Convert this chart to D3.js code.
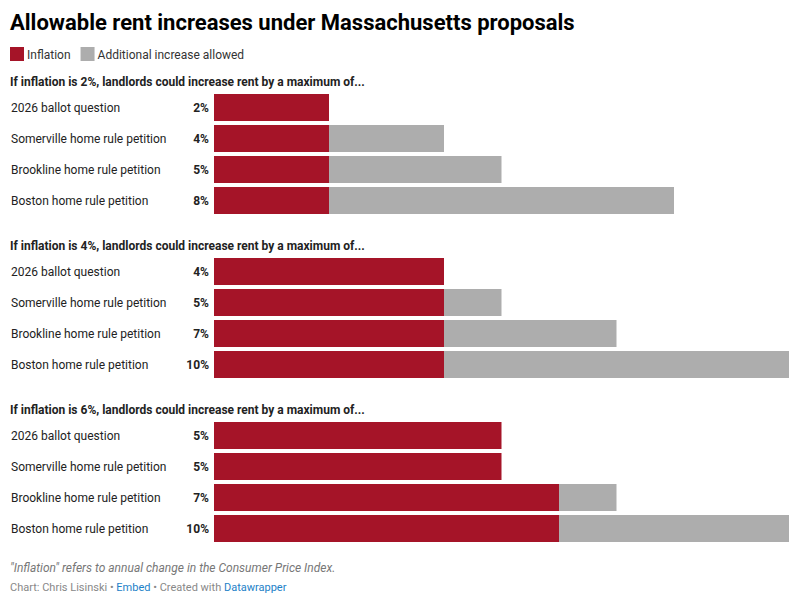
<!DOCTYPE html>
<html>
<head>
<meta charset="utf-8">
<script src="https://cdn.jsdelivr.net/npm/d3@7"></script>
<style>
  body { margin: 0; background: #fff; font-family: Roboto, "Noto Sans", sans-serif; }
  svg text { font-family: Roboto, "Noto Sans", sans-serif; }
</style>
</head>
<body>
<script>
// Data
const proposals = ['2026 ballot question', 'Somerville home rule petition', 'Brookline home rule petition', 'Boston home rule petition'];
const scenarios = ['If inflation is 2%, landlords could increase rent by a maximum of...',
  'If inflation is 4%, landlords could increase rent by a maximum of...',
  'If inflation is 6%, landlords could increase rent by a maximum of...'];
// inflation portion per scenario, per proposal
const inflationPart = [
  [2, 2, 2, 2],
  [4, 4, 4, 4],
  [5, 5, 6, 6]
];
// maximum total increase per scenario, per proposal
const maxIncrease = [
  [2, 4, 5, 8],
  [4, 5, 7, 10],
  [5, 5, 7, 10]
];
const legendLabels = ['Inflation', 'Additional increase allowed'];
const colors = ['#a51428', '#adadad'];

const width = 799, height = 604;
const svg = d3.select('body').append('svg')
  .attr('width', width)
  .attr('height', height);

const x = d3.scaleLinear().domain([0, 10]).range([214, 789]);

// Title
svg.append('text')
  .attr('x', 10).attr('y', 30)
  .style('font-size', '22px').style('font-weight', 700).style('fill', '#000')
  .text('Allowable rent increases under Massachusetts proposals');

// Legend
const leg = svg.append('g').attr('transform', 'translate(10,47)');
let lx = 0;
legendLabels.forEach((l, i) => {
  leg.append('rect').attr('x', lx).attr('y', 0).attr('width', 14).attr('height', 14).attr('fill', colors[i]);
  const t = leg.append('text').attr('x', lx + 17).attr('y', 12)
    .style('font-size', '12px').style('fill', '#333').text(l);
  lx += 17 + t.node().getComputedTextLength() + 10;
});

const sectionTop = 94, sectionStep = 164, rowStep = 31, barH = 27;

scenarios.forEach((s, si) => {
  const g = svg.append('g').attr('transform', `translate(0,${sectionTop + si * sectionStep})`);
  g.append('text').attr('x', 10).attr('y', -8)
    .style('font-size', '12px').style('font-weight', 700).style('fill', '#222').text(s);

  const rows = g.selectAll('g.row').data(proposals).enter().append('g')
    .attr('class', 'row')
    .attr('transform', (d, i) => `translate(0,${i * rowStep})`);

  rows.append('text').attr('x', 11).attr('y', barH / 2 + 4)
    .style('font-size', '12px').style('fill', '#222').text(d => d);

  rows.append('text').attr('x', 209).attr('y', barH / 2 + 4)
    .attr('text-anchor', 'end')
    .style('font-size', '12px').style('font-weight', 700).style('fill', '#222')
    .text((d, i) => maxIncrease[si][i] + '%');

  rows.append('rect')
    .attr('x', x(0)).attr('y', 0).attr('height', barH)
    .attr('width', (d, i) => x(inflationPart[si][i]) - x(0))
    .attr('fill', colors[0]);

  rows.append('rect')
    .attr('x', (d, i) => x(inflationPart[si][i])).attr('y', 0).attr('height', barH)
    .attr('width', (d, i) => x(maxIncrease[si][i]) - x(inflationPart[si][i]))
    .attr('fill', colors[1]);
});

// Notes
svg.append('text').attr('x', 10).attr('y', 572)
  .style('font-size', '12px').style('font-style', 'italic').style('fill', '#777')
  .text('"Inflation" refers to annual change in the Consumer Price Index.');

const cred = svg.append('text').attr('x', 10).attr('y', 591)
  .style('font-size', '11px').style('fill', '#888');
cred.append('tspan').text('Chart: Chris Lisinski • ');
cred.append('tspan').style('fill', '#1d81c8').text('Embed');
cred.append('tspan').text('  • Created with ');
cred.append('tspan').style('fill', '#1d81c8').text('Datawrapper');
</script>
</body>
</html>
